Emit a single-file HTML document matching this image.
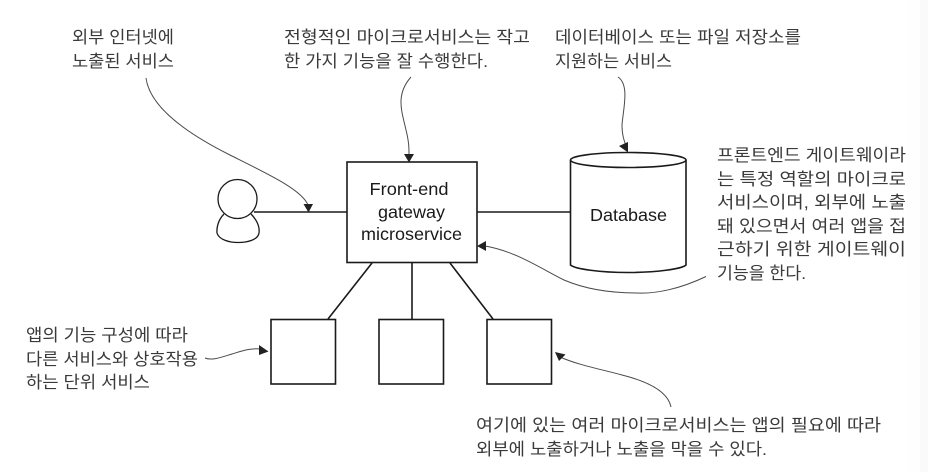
<!DOCTYPE html>
<html lang="ko">
<head>
<meta charset="utf-8">
<style>
html,body{margin:0;padding:0;background:#fff;width:928px;height:472px;overflow:hidden}
svg{display:block}
.k{font-family:"Liberation Sans","Noto Sans CJK KR",sans-serif;font-size:17px;fill:#3a3a3a}
.e{font-family:"Liberation Sans",sans-serif;font-size:17.500px;fill:#1a1a1a}
.s{fill:none;stroke:#1a1a1a;stroke-width:1.600}
.c{fill:none;stroke:#4a4a4a;stroke-width:1}
.a{fill:#222}
</style>
</head>
<body>
<svg width="928" height="472" viewBox="0 0 928 472" xmlns="http://www.w3.org/2000/svg">
<rect width="928" height="472" fill="#fff"/>
<rect x="908" width="12" height="472" fill="#fefefe"/>
<rect x="920" width="8" height="472" fill="#fafafa"/>

<!-- connectors -->
<path class="s" d="M254 212H347M477 212H571M372 263L328 319M412 263V319M450 263L493 319"/>

<!-- gateway -->
<rect class="s" x="347" y="162" width="130" height="100.500" fill="#fff"/>
<text class="e" x="369.500" y="195" textLength="79" lengthAdjust="spacingAndGlyphs">Front-end</text>
<text class="e" x="378" y="218" textLength="67" lengthAdjust="spacingAndGlyphs">gateway</text>
<text class="e" x="361" y="240" textLength="101" lengthAdjust="spacingAndGlyphs">microservice</text>

<!-- person -->
<circle cx="237.500" cy="199" r="19.500" fill="#fff" stroke="#1a1a1a" stroke-width="1.300"/>
<path d="M224 214C218 220 216.500 228 217 233C219 240 230 242.500 238 242.500C247 242.500 258 240 259 233C260 226 256 219 251 214" fill="none" stroke="#1a1a1a" stroke-width="1.300"/>

<!-- database -->
<path class="s" d="M570.500 160V265C575 269 600 272.500 628 272.500C656 272.500 682 269 686 265V160"/>
<ellipse class="s" cx="628.250" cy="160" rx="57.750" ry="7.500"/>
<text class="e" x="590" y="221" textLength="77" lengthAdjust="spacingAndGlyphs">Database</text>

<!-- squares -->
<rect class="s" x="271" y="319.500" width="64.500" height="64.500"/>
<rect class="s" x="379" y="319.500" width="64.500" height="64.500"/>
<rect class="s" x="487" y="319.500" width="64.500" height="64.500"/>

<!-- callout curves -->
<path class="c" d="M146 78C150 108 190 135 230 155C270 175 302 190 308 205"/>
<polygon class="a" points="303.500,204 313,204 308.500,212.500"/>
<path class="c" d="M411 77C395 95 402 112 406 130C409 142 409 148 409 155"/>
<polygon class="a" points="404,154 414,154 409,162.500"/>
<path class="c" d="M618 77C630 85 623 110 622 125C622 135 624 140 626 146"/>
<polygon class="a" points="619,146 628,142 628,152.500"/>
<path class="c" d="M706 276.500C680 289 655 294 637 293C610 293 585 289 564 280C540 268 515 251 485 246"/>
<polygon class="a" points="477,246 486,241 486,251"/>
<path class="c" d="M205 358C212 361 222 357 232 354C242 351 250 348 260 349"/>
<polygon class="a" points="268.500,351.500 259,345 259,355"/>
<path class="c" d="M671 407C668 392 650 382 622 375C600 369 578 365 560 357"/>
<polygon class="a" points="555,352 565.500,354.500 559,361"/>

<!-- labels -->
<text class="k" x="72" y="43" textLength="102" lengthAdjust="spacingAndGlyphs">외부 인터넷에</text>
<text class="k" x="72" y="67" textLength="102" lengthAdjust="spacingAndGlyphs">노출된 서비스</text>
<text class="k" x="284" y="43" textLength="246" lengthAdjust="spacingAndGlyphs">전형적인 마이크로서비스는 작고</text>
<text class="k" x="284" y="67" textLength="204" lengthAdjust="spacingAndGlyphs">한 가지 기능을 잘 수행한다.</text>
<text class="k" x="555" y="43" textLength="246" lengthAdjust="spacingAndGlyphs">데이터베이스 또는 파일 저장소를</text>
<text class="k" x="555" y="67" textLength="117" lengthAdjust="spacingAndGlyphs">지원하는 서비스</text>
<text class="k" x="717" y="161" textLength="189" lengthAdjust="spacingAndGlyphs">프론트엔드 게이트웨이라</text>
<text class="k" x="717" y="185" textLength="189" lengthAdjust="spacingAndGlyphs">는 특정 역할의 마이크로</text>
<text class="k" x="717" y="208" textLength="189" lengthAdjust="spacingAndGlyphs">서비스이며, 외부에 노출</text>
<text class="k" x="717" y="232" textLength="189" lengthAdjust="spacingAndGlyphs">돼 있으면서 여러 앱을 접</text>
<text class="k" x="717" y="255" textLength="189" lengthAdjust="spacingAndGlyphs">근하기 위한 게이트웨이</text>
<text class="k" x="717" y="279" textLength="89" lengthAdjust="spacingAndGlyphs">기능을 한다.</text>
<text class="k" x="26" y="341" textLength="162" lengthAdjust="spacingAndGlyphs">앱의 기능 구성에 따라</text>
<text class="k" x="26" y="365" textLength="172" lengthAdjust="spacingAndGlyphs">다른 서비스와 상호작용</text>
<text class="k" x="26" y="388" textLength="124" lengthAdjust="spacingAndGlyphs">하는 단위 서비스</text>
<text class="k" x="476" y="431" textLength="405" lengthAdjust="spacingAndGlyphs">여기에 있는 여러 마이크로서비스는 앱의 필요에 따라</text>
<text class="k" x="476" y="455" textLength="291" lengthAdjust="spacingAndGlyphs">외부에 노출하거나 노출을 막을 수 있다.</text>
</svg>
</body>
</html>
